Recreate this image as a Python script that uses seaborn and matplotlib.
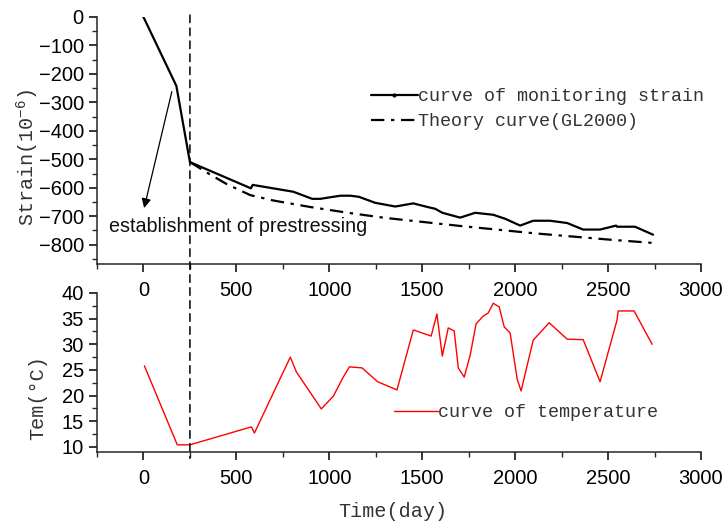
import numpy as np
import pandas as pd
import matplotlib
matplotlib.use("Agg")
import matplotlib.pyplot as plt
import seaborn as sns
from matplotlib.patches import ConnectionPatch
from matplotlib.ticker import MultipleLocator
from matplotlib.transforms import blended_transform_factory
from matplotlib.lines import Line2D

# ---------------- data ----------------
strain_days = [0, 177, 250, 578, 588, 806, 908, 952, 1000, 1060, 1113, 1160, 1247,
               1355, 1452, 1530, 1570, 1608, 1704, 1785, 1882, 1946, 2027, 2097,
               2188, 2280, 2366, 2457, 2543, 2548, 2645, 2742]
strain_vals = [0, -242, -510, -602, -590, -614, -639, -639, -634, -628, -628, -632, -653,
               -666, -655, -668, -674, -688, -705, -688, -695, -709, -733, -716,
               -716, -724, -747, -747, -733, -737, -737, -765]

theory_days = [250, 350, 450, 575, 700, 900, 1100, 1300, 1500, 1700, 1900, 2100,
               2300, 2500, 2742]
theory_vals = [-510, -550, -588, -626, -645, -668, -688, -706, -720, -734, -747,
               -760, -771, -782, -794]

temp_days = [5, 182, 250, 581, 597, 790, 823, 957, 1022, 1075, 1108, 1176, 1260,
             1364, 1452, 1548, 1579, 1608, 1640, 1672, 1694, 1726, 1758, 1790, 1828,
             1855, 1882, 1914, 1941, 1973, 2011, 2032, 2097, 2183, 2280, 2366, 2457,
             2548, 2554, 2640, 2737]
temp_vals = [25.8, 10.4, 10.4, 13.9, 12.7, 27.5, 24.6, 17.4, 19.9, 23.6, 25.6, 25.4,
             22.7, 21.1, 32.8, 31.6, 35.9, 27.7, 33.2, 32.6, 25.4, 23.6, 27.9, 34.0,
             35.5, 36.1, 38.0, 37.3, 33.4, 32.2, 23.2, 20.9, 30.8, 34.2, 31.0, 30.9,
             22.7, 34.7, 36.5, 36.5, 30.0]

prestress_day = 250
x_ticks = [0, 500, 1000, 1500, 2000, 2500, 3000]
strain_ticks = [0, -100, -200, -300, -400, -500, -600, -700, -800]
temp_ticks = [10, 15, 20, 25, 30, 35, 40]

strain_df = pd.DataFrame({"day": strain_days, "strain": strain_vals})
theory_df = pd.DataFrame({"day": theory_days, "strain": theory_vals})
temp_df = pd.DataFrame({"day": temp_days, "temp": temp_vals})

# ---------------- style ----------------
sns.set_style("ticks")
plt.rcParams["font.family"] = ["Liberation Sans", "DejaVu Sans"]
plt.rcParams["mathtext.default"] = "regular"
plt.rcParams["axes.linewidth"] = 1.1

serif = ["Liberation Mono", "DejaVu Sans Mono"]
lab_col = "#333333"

fig = plt.figure(figsize=(7.28, 5.29), dpi=100)
ax1 = fig.add_axes([97 / 728, 1 - 264 / 529, 604 / 728, 247 / 529])
ax2 = fig.add_axes([97 / 728, 1 - 452 / 529, 604 / 728, 159 / 529])
ax2.patch.set_alpha(0)

# ---- top: strain ----
sns.lineplot(data=strain_df, x="day", y="strain", ax=ax1, color="black", lw=1.6,
             sort=False)
sns.lineplot(data=theory_df, x="day", y="strain", ax=ax1, color="black", lw=1.6,
             sort=False)
ax1.lines[1].set_dashes([6, 3, 1.5, 3])

ax1.set_xlim(-250, 3000)
ax1.set_ylim(-868, 0)
ax1.set_xticks(x_ticks)
ax1.set_yticks(strain_ticks)
ax1.xaxis.set_minor_locator(MultipleLocator(250))
ax1.yaxis.set_minor_locator(MultipleLocator(50))
for s in ["top", "right"]:
    ax1.spines[s].set_visible(False)
ax1.set_xlabel("")
ax1.set_ylabel("Strain(10$^{-6}$)", fontsize=14.5, family=serif, color=lab_col)
ax1.yaxis.set_label_coords(-0.093, 0.43)

h1 = Line2D([], [], color="black", lw=1.6, marker="o", markersize=3,
            markeredgewidth=0)
h2 = Line2D([], [], color="black", lw=1.6, dashes=[6, 3, 1.5, 3])
leg1 = ax1.legend([h1, h2], ["curve of monitoring strain", "Theory curve(GL2000)"],
                  loc="upper left", bbox_to_anchor=(0.4536, 0.712), frameon=False,
                  borderaxespad=0, borderpad=0, handletextpad=0, handlelength=2.55,
                  labelspacing=0.45, prop={"family": serif, "size": 13.2})
for t in leg1.get_texts():
    t.set_color(lab_col)

ax1.annotate("", xy=(0, -681), xytext=(156, -253),
             arrowprops=dict(arrowstyle="-|>", color="black", lw=0.9,
                             mutation_scale=14))
ax1.text(-188, -735, "establishment of prestressing", fontsize=14.2,
         va="center", ha="left", color="#111111")

# ---- bottom: temperature ----
sns.lineplot(data=temp_df, x="day", y="temp", ax=ax2, color="red", lw=1.0,
             label="curve of temperature", sort=False)
ax2.set_xlim(-250, 3000)
ax2.set_ylim(9, 40)
ax2.set_xticks(x_ticks)
ax2.set_yticks(temp_ticks)
ax2.xaxis.set_minor_locator(MultipleLocator(250))
ax2.yaxis.set_minor_locator(MultipleLocator(2.5))
for s in ["top", "right"]:
    ax2.spines[s].set_visible(False)
ax2.set_xlabel("Time(day)", fontsize=14.5, family=serif, color=lab_col)
ax2.xaxis.set_label_coords(0.49, -0.315)
ax2.set_ylabel("Tem(°C)", fontsize=14.5, family=serif, color=lab_col)
ax2.yaxis.set_label_coords(-0.083, 0.34)

leg2 = ax2.legend(loc="upper left", bbox_to_anchor=(0.492, 0.30), frameon=False,
                  borderaxespad=0, borderpad=0, handletextpad=0, handlelength=2.4,
                  prop={"family": serif, "size": 13.2})
for t in leg2.get_texts():
    t.set_color(lab_col)

for ax in (ax1, ax2):
    ax.tick_params(axis="both", which="major", direction="out", length=6,
                   width=1.1, labelsize=14.5, colors="black")
    ax.tick_params(axis="both", which="minor", direction="out", length=3.5,
                   width=1.0)
    ax.tick_params(axis="x", which="major", pad=6)

# ---- vertical dashed line through both panels ----
ta = blended_transform_factory(ax1.transData, ax1.transAxes)
tb = blended_transform_factory(ax2.transData, ax2.transAxes)
con = ConnectionPatch(xyA=(prestress_day, 1.008), coordsA=ta,
                      xyB=(prestress_day, -0.04), coordsB=tb,
                      color="black", lw=1.1, linestyle=(0, (5, 3.5)))
fig.add_artist(con)

fig.savefig("out.png", dpi=100)
